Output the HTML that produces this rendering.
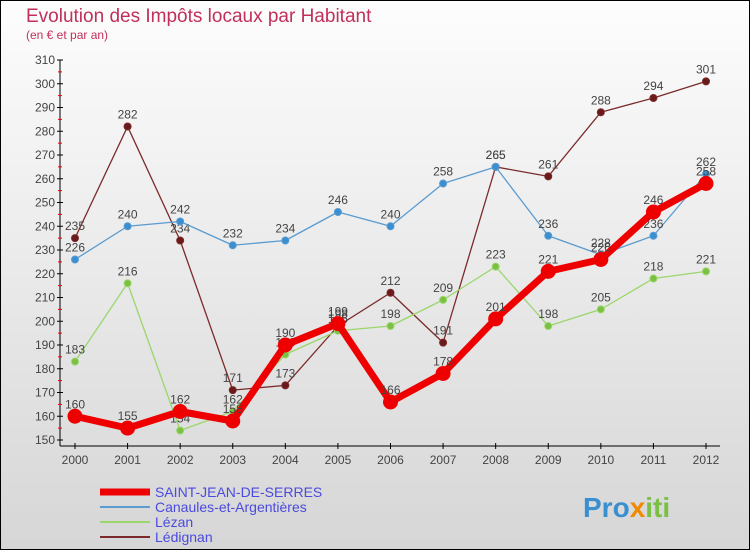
<!DOCTYPE html>
<html><head><meta charset="utf-8"><style>
body{margin:0}
#c{width:750px;height:550px;position:relative;font-family:"Liberation Sans",sans-serif}
</style></head><body>
<div id="c">
<svg id="s" width="750" height="550" xmlns="http://www.w3.org/2000/svg">
<defs><linearGradient id="bg" x1="0" y1="0" x2="0" y2="1"><stop offset="0" stop-color="#fdfdfd"/><stop offset="1" stop-color="#d6d6d6"/></linearGradient></defs>
<rect x="0.5" y="0.5" width="749" height="549" fill="url(#bg)" stroke="#000"/>
<text x="26" y="22" font-size="19" fill="#c0305a">Evolution des Impôts locaux par Habitant</text>
<text x="26" y="39" font-size="12" fill="#c0305a">(en € et par an)</text>
<g id="axes"></g><g id="series"></g><g id="legend"></g>
<text x="583" y="517" font-size="28" font-weight="bold" fill="#3a8fd0">Pro<tspan fill="#f08a00">x</tspan><tspan fill="#7ac143">iti</tspan></text>
</svg></div>
<script>
const years=["2000","2001","2002","2003","2004","2005","2006","2007","2008","2009","2010","2011","2012"];
const yTicks=[150,160,170,180,190,200,210,220,230,240,250,260,270,280,290,300,310];
const saintJean=[160,155,162,158,190,199,166,178,201,221,226,246,258];
const canaules=[226,240,242,232,234,246,240,258,265,236,228,236,262];
const lezan=[183,216,154,162,186,196,198,209,223,198,205,218,221];
const ledignan=[235,282,234,171,173,198,212,191,265,261,288,294,301];
const seriesNames=["SAINT-JEAN-DE-SERRES","Canaules-et-Argentières","Lézan","Lédignan"];
const NS="http://www.w3.org/2000/svg";
const x=i=>75+i*(706-75)/12;
const y=v=>440-(v-150)*380/160;
function mk(t,a,p){const e=document.createElementNS(NS,t);for(const k in a)e.setAttribute(k,a[k]);p.appendChild(e);return e;}
const ax=document.getElementById('axes');
let l=mk('line',{x1:60,y1:60,x2:60,y2:446,stroke:'#000'},ax);

l=mk('line',{x1:60,y1:446,x2:720,y2:446,stroke:'#000'},ax);

yTicks.forEach(v=>{mk('line',{x1:57,y1:y(v),x2:63,y2:y(v),stroke:'#000'},ax);
 if(v<310)mk('line',{x1:58,y1:y(v+5),x2:62,y2:y(v+5),stroke:'#e00'},ax);
 const t=mk('text',{x:55,y:y(v)+4,'font-size':12,fill:'#444','text-anchor':'end'},ax);t.textContent=v;
 });
years.forEach((yr,i)=>{mk('line',{x1:x(i),y1:443,x2:x(i),y2:449,stroke:'#000'},ax);
 const t=mk('text',{x:x(i),y:464,'font-size':12,fill:'#444','text-anchor':'middle'},ax);t.textContent=yr;
 });
const sg=document.getElementById('series');
function draw(data,color,dot,w,r,name){
 const g=mk('g',{},sg);
 mk('polyline',{points:data.map((v,i)=>x(i)+','+y(v)).join(' '),fill:'none',stroke:color,'stroke-width':w,'stroke-linejoin':'round'},g);
 data.forEach((v,i)=>{const c=mk('circle',{cx:x(i),cy:y(v),r:r,fill:dot,stroke:color,'stroke-width':1},g);
  
  const t=mk('text',{x:x(i),y:y(v)-8,'font-size':12,fill:'#444','text-anchor':'middle'},g);t.textContent=v;
  });
}
draw(ledignan,'#7a2a2a','#6a1a1a',1.3,3.5,'series-ledignan');
draw(lezan,'#9ad66a','#7ac143',1.3,3.5,'series-lezan');
draw(canaules,'#5a9bd0','#3a8fd0',1.3,3.5,'series-canaules');
draw(saintJean,'#ee0000','#ee0000',7,7,'series-saint-jean');
const lg=document.getElementById('legend');
const lc=['#ee0000','#5a9bd0','#9ad66a','#7a2a2a'],lw=[7,2,2,2];
seriesNames.forEach((n,i)=>{const yy=492+i*15;
 const g=mk('g',{},lg);
 mk('line',{x1:100,y1:yy,x2:150,y2:yy,stroke:lc[i],'stroke-width':lw[i]},g);
 const t=mk('text',{x:155,y:yy+5,'font-size':14,fill:'#4a4adf'},g);t.textContent=n;});
</script>
</body></html>
